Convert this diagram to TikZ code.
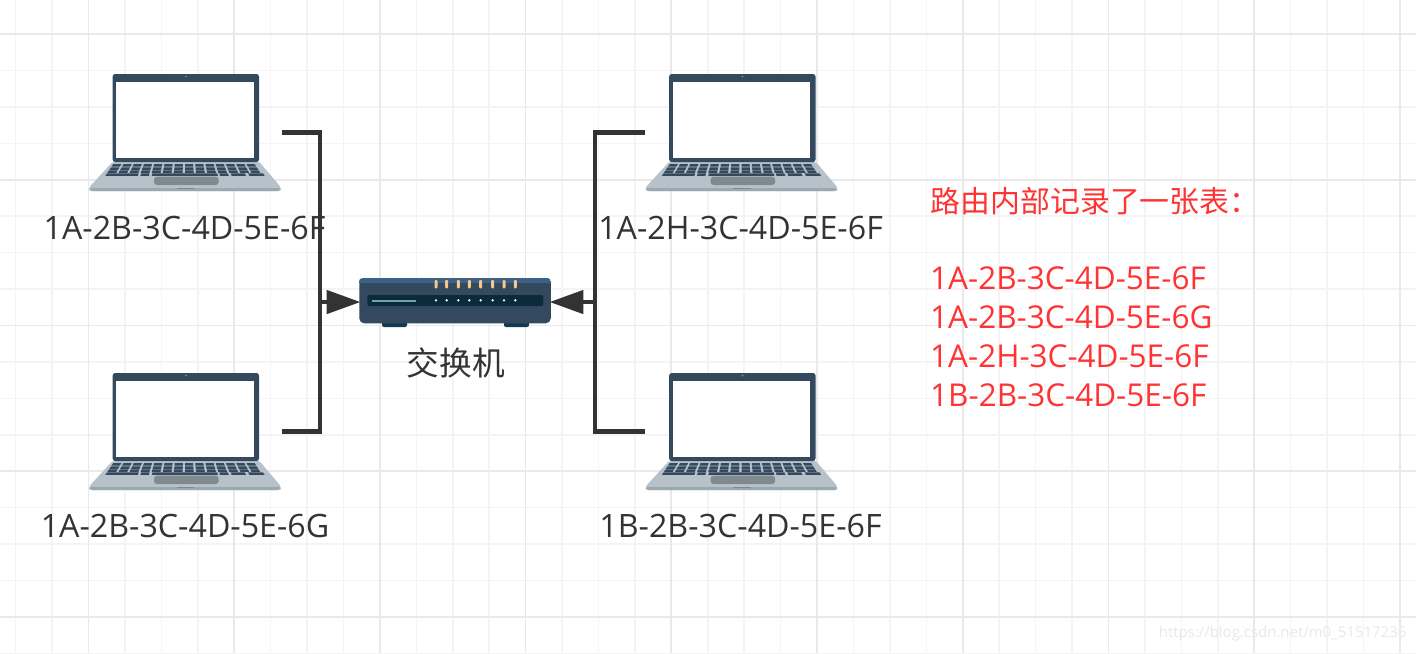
\documentclass[tikz,border=0pt]{standalone}
\usepackage{fontspec}
\setmainfont{Open Sans}
\newfontfamily\cjk{Noto Sans CJK SC}
\usetikzlibrary{arrows.meta}
\definecolor{gridminor}{HTML}{F4F4F4}
\definecolor{gridmajor}{HTML}{E9E9E9}
\definecolor{wirecol}{HTML}{333333}
\definecolor{lidcol}{HTML}{34495E}
\definecolor{basecol}{HTML}{B6C1C9}
\definecolor{stripcol}{HTML}{9BA8B0}
\definecolor{padcol}{HTML}{7F8A8E}
\definecolor{swtop}{HTML}{3A6186}
\definecolor{panelcol}{HTML}{0B2A3A}
\definecolor{barcol}{HTML}{6FA3AE}
\definecolor{ledcol}{HTML}{F5C78C}
\definecolor{footcol}{HTML}{0F3B50}
\definecolor{notecol}{HTML}{FF3333}
\tikzstyle{minorline}=[gridminor,line width=0.015cm]
\tikzstyle{majorline}=[gridmajor,line width=0.018cm]
\tikzstyle{pcbox}=[inner sep=0,minimum width=1.92cm,minimum height=1.17cm]
\tikzstyle{swbox}=[fill=lidcol,rounded corners=0.05cm,inner sep=0,minimum width=1.914cm,minimum height=0.45cm]
\tikzstyle{wire}=[wirecol,line width=0.048cm]
\tikzstyle{wirearrow}=[wire,-{Triangle[length=0.34cm,width=0.23cm]},shorten >=-0.02cm]
\tikzstyle{pclabel}=[wirecol,inner sep=0,font=\fontsize{9.15pt}{11pt}\selectfont]
\tikzstyle{swlabel}=[wirecol,inner sep=0,font=\cjk\fontsize{9.3pt}{11pt}\selectfont]
\tikzstyle{notelabel}=[notecol,inner sep=0,anchor=west,font=\fontsize{8.95pt}{11pt}\selectfont]
\tikzstyle{notehead}=[notecol,inner sep=0,anchor=west,font=\cjk\fontsize{8.5pt}{10pt}\selectfont]
\tikzstyle{marklabel}=[gridmajor,inner sep=0,anchor=east,font=\fontsize{4.25pt}{6pt}\selectfont]
\newcommand{\drawkey}[3]{
\pgfmathsetmacro{\hwa}{71.7+0.667*(#3-31.5)}
\pgfmathsetmacro{\hwb}{71.7+0.667*(#3+2.5-31.5)}
\fill[lidcol] (#1*\hwa,#3) -- (#2*\hwa,#3) -- (#2*\hwb,#3+2.5) -- (#1*\hwb,#3+2.5) -- cycle;
}
\newcommand{\drawlaptop}[1]{
\begin{scope}[shift={(#1.center)}]
  \fill[basecol,rounded corners=0.02cm] (-72,29) -- (74,29) -- (96,55) -- (96,58.5) -- (-96,58.5) -- (-96,55) -- cycle;
  \fill[stripcol,rounded corners=0.02cm] (-95.5,55.5) -- (95.5,55.5) -- (94.5,58.5) -- (-94.5,58.5) -- cycle;
  \fill[lidcol,rounded corners=0.025cm] (-72.3,-58.5) rectangle (74,29.5);
  \fill[white] (-69,-50.2) rectangle (68.7,25.8);
  \fill[lidcol!70!white] (1,-56) circle (0.012cm);
  \foreach \rowy in {31.5,34.8,37.8} {
    \foreach \i in {0,1,...,13} {
      \pgfmathsetmacro{\ua}{-1+\i/7}
      \pgfmathsetmacro{\ub}{\ua+1/7-0.03}
      \drawkey{\ua}{\ub}{\rowy}
    }
  }
  \foreach \ua/\ub in {-1/-0.593,-0.56/-0.455,-0.417/0.413,0.44/0.55,0.587/0.767,0.809/1} {
    \drawkey{\ua}{\ub}{40.8}
  }
  \fill[padcol,rounded corners=0.03cm] (-31,44.2) rectangle (33.7,52.5);
  \fill[padcol] (-8.3,55.2) rectangle (9,56);
\end{scope}
}
\begin{document}
\begin{tikzpicture}[x=0.01cm,y=-0.01cm]
\useasboundingbox (0,0) rectangle (1416,653);
\fill[white] (0,0) rectangle (1416,653);
% grid
\foreach \k in {0,1,...,38} {
  \draw[minorline] (15.6+36.43*\k,0) -- (15.6+36.43*\k,653);
}
\foreach \k in {0,1,...,17} {
  \draw[minorline] (0,34+36.43*\k) -- (1416,34+36.43*\k);
}
\foreach \k in {0,1,...,9} {
  \draw[majorline] (88.4+145.72*\k,0) -- (88.4+145.72*\k,653);
}
\foreach \k in {0,1,...,4} {
  \draw[majorline] (0,34+145.72*\k) -- (1416,34+145.72*\k);
}
% machines
\node[pcbox] (pca) at (185,132.5) {};
\node[pcbox] (pcb) at (185,431.5) {};
\node[pcbox] (pcc) at (741.5,132.5) {};
\node[pcbox] (pcd) at (741.5,431.5) {};
\drawlaptop{pca}
\drawlaptop{pcb}
\drawlaptop{pcc}
\drawlaptop{pcd}
% switch
\fill[footcol,rounded corners=0.02cm] (382,320) rectangle (407,327);
\fill[footcol,rounded corners=0.02cm] (504,320) rectangle (529,327);
\node[swbox] (sw) at (455,300.8) {};
\begin{scope}
  \clip[rounded corners=0.05cm] (sw.south west) rectangle (sw.north east);
  \fill[swtop] (sw.north west) rectangle (551,283);
\end{scope}
\fill[panelcol,rounded corners=0.02cm] (367.3,295) rectangle (543.3,306);
\fill[barcol] (372,299.5) rectangle (415.5,302);
\foreach \ledx in {436,446.7,458.3,469.3,480.7,492.7,504,515.3} {
  \fill[white] (\ledx,300.3) circle (0.013cm);
  \fill[ledcol,rounded corners=0.01cm] (\ledx-1.5,280) rectangle (\ledx+1.5,288.3);
}
% wires
\coordinate (jl) at (320,302);
\coordinate (jr) at (595,302);
\draw[wire] (pca.east) -| (jl) |- (pcb.east);
\draw[wire] (pcc.west) -| (jr) |- (pcd.west);
\draw[wirearrow] (jl) -- (jl -| sw.west);
\draw[wirearrow] (jr) -- (jr -| sw.east);
% labels
\node[pclabel] (ta) at (184.5,228) {1A-2B-3C-4D-5E-6F};
\node[pclabel] (tb) at (185,526) {1A-2B-3C-4D-5E-6G};
\node[pclabel] (tc) at (740.5,228) {1A-2H-3C-4D-5E-6F};
\node[pclabel] (td) at (740.5,526) {1B-2B-3C-4D-5E-6F};
\node[swlabel] (ts) at (456,363) {交换机};
\node[notehead] (na) at (930,201) {路由内部记录了一张表：};
\node[notelabel] (nb) at (929.5,278) {1A-2B-3C-4D-5E-6F};
\node[notelabel] (nc) at (929.5,317) {1A-2B-3C-4D-5E-6G};
\node[notelabel] (nd) at (929.5,356) {1A-2H-3C-4D-5E-6F};
\node[notelabel] (ne) at (929.5,395) {1B-2B-3C-4D-5E-6F};
\node[marklabel] (wm) at (1407,634) {https://blog.csdn.net/m0\_51517236};
\end{tikzpicture}
\end{document}
